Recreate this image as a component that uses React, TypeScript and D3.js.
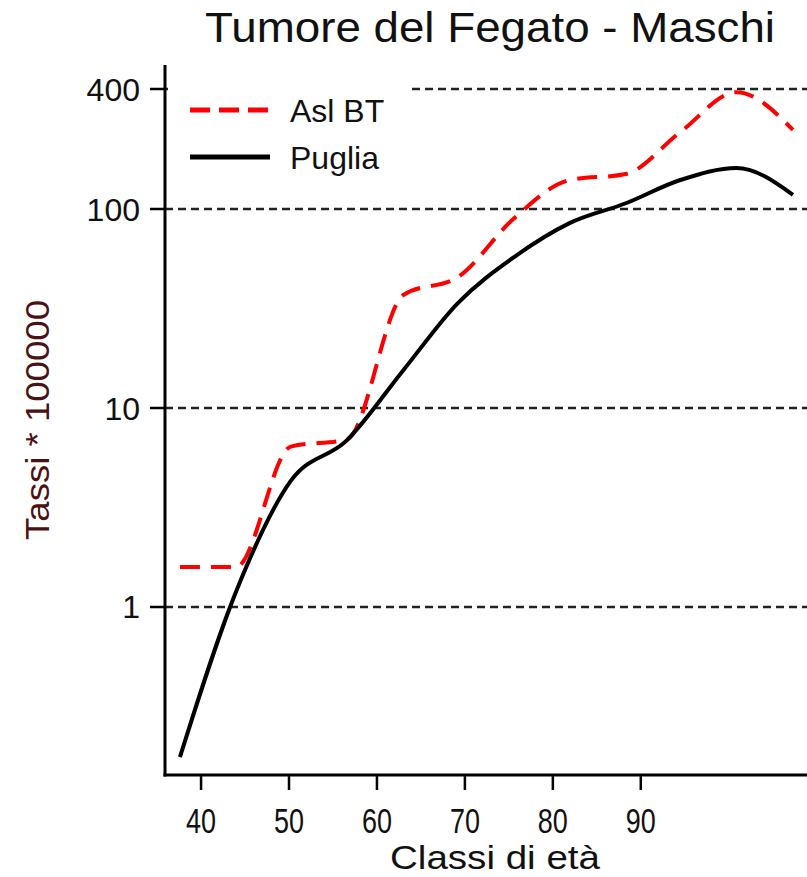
import React, { useEffect, useRef } from 'react';
import * as d3 from 'd3';

const W = 807;
const H = 877;
const margin = { top: 65, bottom: 102, left: 165, right: 0 };

// positions of the age classes as drawn on the age axis
const ageClasses = [37.6, 44.0, 50.2, 56.6, 63.0, 69.2, 75.6, 81.9, 88.3, 94.5, 100.9, 107.3];
const aslBT = [1.59, 1.59, 6.4, 6.95, 37, 45.5, 90, 140, 150, 244, 387, 250];
const puglia = [0.176, 1.2, 4.3, 6.9, 15.5, 33.7, 57.4, 85, 107, 140, 161, 118];

const xTicks = [40, 50, 60, 70, 80, 90];
const yTicks = [1, 10, 100, 400];
const xDomain = [35.9, 108.9];
const yDomain = [0.143, 530];

const font = '"Liberation Sans", Arial, sans-serif';

export default function App() {
  const ref = useRef<SVGSVGElement>(null);

  useEffect(() => {
    const svg = d3.select(ref.current);
    svg.selectAll('*').remove();

    const x = d3.scaleLinear().domain(xDomain).range([margin.left, W - margin.right]);
    const y = d3.scaleLog().domain(yDomain).range([H - margin.bottom, margin.top]);

    // grid
    svg
      .append('g')
      .selectAll('line')
      .data(yTicks)
      .enter()
      .append('line')
      .attr('x1', margin.left)
      .attr('x2', W)
      .attr('y1', d => Math.round(y(d)))
      .attr('y2', d => Math.round(y(d)))
      .attr('stroke', '#222')
      .attr('stroke-width', 2.5)
      .attr('stroke-dasharray', '8,5');

    // legend background hides the top grid line
    svg
      .append('rect')
      .attr('x', margin.left + 3)
      .attr('y', 68)
      .attr('width', 244)
      .attr('height', 125)
      .attr('fill', '#fff');

    const line = (vals: number[]) =>
      d3
        .line<number>()
        .x((d, i) => x(ageClasses[i]))
        .y(d => y(d))
        .curve(d3.curveMonotoneX)(vals);

    svg
      .append('path')
      .attr('d', line(aslBT))
      .attr('fill', 'none')
      .attr('stroke', '#ff0000')
      .attr('stroke-width', 4)
      .attr('stroke-dasharray', '20,11');

    svg
      .append('path')
      .attr('d', line(puglia))
      .attr('fill', 'none')
      .attr('stroke', '#000')
      .attr('stroke-width', 4);

    // axes
    const bottom = H - margin.bottom;
    svg
      .append('line')
      .attr('x1', margin.left)
      .attr('x2', margin.left)
      .attr('y1', margin.top)
      .attr('y2', bottom + 1.5)
      .attr('stroke', '#000')
      .attr('stroke-width', 3);
    svg
      .append('line')
      .attr('x1', margin.left - 1.5)
      .attr('x2', W)
      .attr('y1', bottom)
      .attr('y2', bottom)
      .attr('stroke', '#000')
      .attr('stroke-width', 3);

    const yAxis = svg.append('g');
    yAxis
      .selectAll('line')
      .data(yTicks)
      .enter()
      .append('line')
      .attr('x1', margin.left - 15)
      .attr('x2', margin.left)
      .attr('y1', d => Math.round(y(d)))
      .attr('y2', d => Math.round(y(d)))
      .attr('stroke', '#000')
      .attr('stroke-width', 2.5);
    yAxis
      .selectAll('text')
      .data(yTicks)
      .enter()
      .append('text')
      .attr('x', margin.left - 25)
      .attr('y', d => y(d))
      .attr('dy', '0.36em')
      .attr('text-anchor', 'end')
      .attr('font-family', font)
      .attr('font-size', 32)
      .attr('fill', '#111')
      .text(d => d);

    const xAxis = svg.append('g');
    xAxis
      .selectAll('line')
      .data(xTicks)
      .enter()
      .append('line')
      .attr('x1', d => x(d))
      .attr('x2', d => x(d))
      .attr('y1', bottom)
      .attr('y2', bottom + 15)
      .attr('stroke', '#000')
      .attr('stroke-width', 2.5);
    xAxis
      .selectAll('text')
      .data(xTicks)
      .enter()
      .append('text')
      .attr('x', d => x(d))
      .attr('y', 833)
      .attr('text-anchor', 'middle')
      .attr('font-family', font)
      .attr('font-size', 35)
      .attr('textLength', 30)
      .attr('lengthAdjust', 'spacingAndGlyphs')
      .attr('fill', '#111')
      .text(d => d);

    // titles
    svg
      .append('text')
      .attr('x', 490)
      .attr('y', 42)
      .attr('text-anchor', 'middle')
      .attr('font-family', font)
      .attr('font-size', 43)
      .attr('textLength', 570)
      .attr('lengthAdjust', 'spacingAndGlyphs')
      .attr('fill', '#111')
      .text('Tumore del Fegato - Maschi');

    svg
      .append('text')
      .attr('x', 495)
      .attr('y', 869)
      .attr('text-anchor', 'middle')
      .attr('font-family', font)
      .attr('font-size', 34)
      .attr('textLength', 210)
      .attr('lengthAdjust', 'spacingAndGlyphs')
      .attr('fill', '#111')
      .text('Classi di età');

    svg
      .append('text')
      .attr('transform', 'translate(49,420) rotate(-90)')
      .attr('text-anchor', 'middle')
      .attr('font-family', font)
      .attr('font-size', 34)
      .attr('textLength', 240)
      .attr('lengthAdjust', 'spacingAndGlyphs')
      .attr('fill', '#4a1212')
      .text('Tassi * 100000');

    // legend
    const legend = [
      { label: 'Asl BT', color: '#ff0000', dash: '20,9', y: 110 },
      { label: 'Puglia', color: '#000', dash: null, y: 157 }
    ];
    const lg = svg.append('g');
    legend.forEach(l => {
      lg.append('line')
        .attr('x1', 190)
        .attr('x2', 270)
        .attr('y1', l.y)
        .attr('y2', l.y)
        .attr('stroke', l.color)
        .attr('stroke-width', 5)
        .attr('stroke-dasharray', l.dash);
      lg.append('text')
        .attr('x', 290)
        .attr('y', l.y)
        .attr('dy', '0.36em')
        .attr('font-family', font)
        .attr('font-size', 32)
        .attr('fill', '#111')
        .text(l.label);
    });
  }, []);

  return (
    <svg
      ref={ref}
      width={W}
      height={H}
      style={{ position: 'absolute', left: 0, top: 0, background: '#fff' }}
    />
  );
}
